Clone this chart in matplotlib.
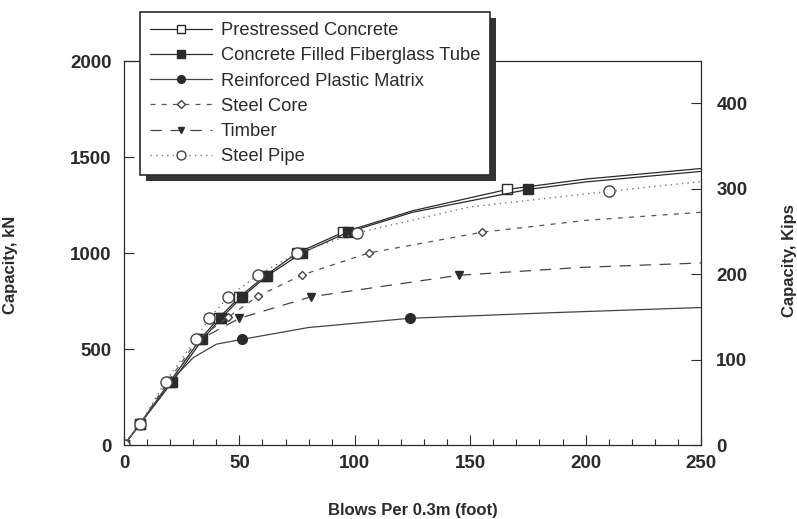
import matplotlib
matplotlib.use("Agg")
import matplotlib.pyplot as plt
from matplotlib.patches import Rectangle
from matplotlib.ticker import MultipleLocator

plt.rcParams['font.family'] = ['Liberation Sans', 'DejaVu Sans']

# blows per 0.3 m (x) and capacity in kN (y)
pc_x = [0, 7, 20, 33, 41, 50, 61, 75, 95, 125, 166, 200, 250]
pc_y = [0, 110, 330, 550, 660, 770, 880, 1000, 1108, 1220, 1331, 1385, 1440]
pc_marks = [0, 1, 2, 3, 4, 5, 6, 7, 8, 10]

cfft_x = [0, 7, 21, 34, 42, 51, 62, 77, 97, 125, 175, 200, 250]
cfft_y = [0, 110, 330, 550, 660, 770, 880, 1000, 1108, 1212, 1331, 1370, 1425]
cfft_marks = [0, 1, 2, 3, 4, 5, 6, 7, 8, 10]

rpm_x = [0, 7, 20, 30, 40, 51, 80, 124, 183, 250]
rpm_y = [0, 110, 330, 455, 525, 550, 612, 660, 688, 716]
rpm_marks = [0, 1, 2, 5, 7]

sc_x = [0, 7, 19, 32, 45, 58, 77, 106, 155, 200, 250]
sc_y = [0, 110, 330, 550, 665, 775, 885, 1000, 1108, 1170, 1212]
sc_marks = [0, 1, 2, 3, 4, 5, 6, 7, 8]

tim_x = [0, 7, 20, 33, 50, 81, 145, 198, 250]
tim_y = [0, 110, 330, 550, 660, 772, 884, 925, 948]
tim_marks = [0, 1, 2, 4, 5, 6]

sp_x = [0, 7, 18, 31, 37, 45, 58, 75, 101, 150, 210, 250]
sp_y = [0, 110, 330, 550, 660, 770, 885, 1000, 1105, 1240, 1321, 1372]
sp_marks = [0, 1, 2, 3, 4, 5, 6, 7, 8, 10]

KN_PER_KIP = 4.448

fig = plt.figure(figsize=(7.97, 5.19), dpi=100)
ax = fig.add_axes([124/797, 1-445/519, 577/797, 384/519])

ink = '#2b2b2b'
ax.plot(pc_x, pc_y, color=ink, lw=0.9, marker='s', ms=6.5, mfc='white', mec=ink,
        markevery=pc_marks, label='Prestressed Concrete')
ax.plot(cfft_x, cfft_y, color=ink, lw=0.9, marker='s', ms=6.5, mfc=ink, mec=ink,
        markevery=cfft_marks, label='Concrete Filled Fiberglass Tube')
ax.plot(rpm_x, rpm_y, color='#444444', lw=0.9, marker='o', ms=7, mfc=ink, mec=ink,
        markevery=rpm_marks, label='Reinforced Plastic Matrix')
ax.plot(sc_x, sc_y, color='#555555', lw=0.9, ls=(0, (4, 5)), marker='D', ms=4.5,
        mfc='white', mec='#444444', markevery=sc_marks, label='Steel Core')
ax.plot(tim_x, tim_y, color='#444444', lw=0.9, ls=(0, (9, 7)), marker='v', ms=6,
        mfc=ink, mec=ink, markevery=tim_marks, label='Timber')
ax.plot(sp_x, sp_y, color='#777777', lw=1.0, ls=(0, (1, 3)), marker='o', ms=8,
        mfc='white', mec='#444444', markevery=sp_marks, label='Steel Pipe')

ax.set_xlim(0, 250)
ax.set_ylim(0, 2000)
ax.xaxis.set_major_locator(MultipleLocator(50))
ax.xaxis.set_minor_locator(MultipleLocator(10))
ax.yaxis.set_major_locator(MultipleLocator(500))
ax.tick_params(which='both', direction='in', colors=ink, width=0.8)
ax.tick_params(which='major', length=7)
ax.tick_params(which='minor', length=4)
ax.tick_params(axis='y', pad=9)
ax.tick_params(axis='x', pad=7)
for lab in ax.get_xticklabels() + ax.get_yticklabels():
    lab.set_fontweight('bold')
    lab.set_fontsize(13.5)
for s in ax.spines.values():
    s.set_color(ink)
    s.set_linewidth(0.9)

ax2 = ax.twinx()
ax2.set_ylim(0, 2000 / KN_PER_KIP)
ax2.yaxis.set_major_locator(MultipleLocator(100))
ax2.tick_params(direction='in', length=7, width=0.8, pad=11, colors=ink)
for lab in ax2.get_yticklabels():
    lab.set_fontweight('bold')
    lab.set_fontsize(13.5)
for s in ax2.spines.values():
    s.set_visible(False)

ax.set_xlabel('Blows Per 0.3m (foot)', fontsize=12, fontweight='bold', color=ink)
ax.xaxis.set_label_coords(0.5, -0.152)
ax.set_ylabel('Capacity, kN', fontsize=12, fontweight='bold', color=ink)
ax.yaxis.set_label_coords(-0.184, 0.47)
ax2.set_ylabel('Capacity, Kips', fontsize=12, fontweight='bold', color=ink)
ax2.yaxis.set_label_coords(1.141, 0.48)

handles, labels = ax.get_legend_handles_labels()
leg = fig.legend(handles, labels, loc='upper left', bbox_to_anchor=(140/797, 1-12/519),
                 borderaxespad=0, fontsize=13.2, handlelength=3.4, handletextpad=0.45,
                 labelspacing=0.45, borderpad=0.55, fancybox=False, framealpha=1,
                 edgecolor=ink, markerscale=0.8)
leg.get_frame().set_linewidth(1.2)
for t in leg.get_texts():
    t.set_color(ink)
leg.set_zorder(6)

fig.canvas.draw()
bb = leg.get_window_extent().transformed(fig.transFigure.inverted())
dx, dy = 6/797, 6/519
fig.patches.append(Rectangle((bb.x0 + dx, bb.y0 - dy), bb.width, bb.height,
                             transform=fig.transFigure, facecolor='#333333',
                             edgecolor='none', zorder=5))

fig.savefig('out.png', dpi=100)
